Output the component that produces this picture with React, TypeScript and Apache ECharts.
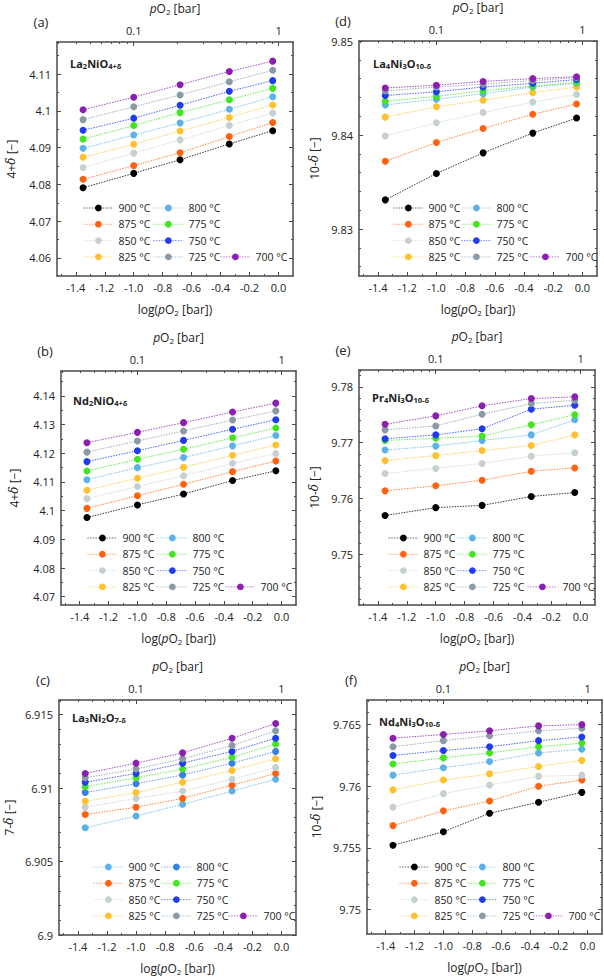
import { useEffect, useRef } from 'react';
import * as echarts from 'echarts';

const FONT = "'Open Sans', 'Noto Sans', sans-serif";
const SERIF = "'DejaVu Serif', 'Liberation Serif', serif";
const TXT = '#222222';
const AX = '#4a4a4a';

const temperatures = ['900 °C', '875 °C', '850 °C', '825 °C', '800 °C', '775 °C', '750 °C', '725 °C', '700 °C'];
const logPO2 = [-1.35, -1.0, -0.68, -0.34, -0.04];

const xMajorTicks = [-1.4, -1.2, -1.0, -0.8, -0.6, -0.4, -0.2, 0.0];
const xMinorTicks = [-1.5, -1.3, -1.1, -0.9, -0.7, -0.5, -0.3, -0.1];
const pO2MajorTicks = [0.1, 1];
const pO2MinorTicks = [0.03, 0.04, 0.05, 0.06, 0.07, 0.08, 0.09, 0.2, 0.3, 0.4, 0.5, 0.6, 0.7, 0.8, 0.9];

const colorsStd = ['#000000', '#ff6312', '#c7d0d0', '#ffc12f', '#5cb1e8', '#42e620', '#1f3cf0', '#8a9ba6', '#8b1fb1'];
const colorsC = ['#5cb1e8', '#ff6312', '#c7d0d0', '#ffc12f', '#3a7fe2', '#42e620', '#1f3cf0', '#8a9ba6', '#8b1fb1'];

// rows: 900, 875, 850, 825, 800, 775, 750, 725, 700 °C
const dataA_La2NiO4 = [
  [4.0791, 4.0830, 4.0867, 4.0910, 4.0946],
  [4.0814, 4.0851, 4.0886, 4.0930, 4.0968],
  [4.0846, 4.0885, 4.0921, 4.0960, 4.0994],
  [4.0874, 4.0909, 4.0945, 4.0982, 4.1016],
  [4.0898, 4.0934, 4.0967, 4.1004, 4.1038],
  [4.0923, 4.0960, 4.0995, 4.1030, 4.1061],
  [4.0947, 4.0980, 4.1015, 4.1053, 4.1082],
  [4.0976, 4.1011, 4.1043, 4.1079, 4.1110],
  [4.1003, 4.1037, 4.1071, 4.1107, 4.1135],
];
const dataD_La4Ni3O10 = [
  [9.8331, 9.8359, 9.8381, 9.8402, 9.8418],
  [9.8372, 9.8392, 9.8407, 9.8422, 9.8433],
  [9.8399, 9.8413, 9.8424, 9.8435, 9.8443],
  [9.8419, 9.8430, 9.8437, 9.8445, 9.8451],
  [9.8432, 9.8438, 9.8444, 9.8451, 9.8455],
  [9.8436, 9.8441, 9.8447, 9.8452, 9.8456],
  [9.8442, 9.8446, 9.8451, 9.8455, 9.8459],
  [9.8447, 9.8451, 9.8454, 9.8458, 9.8461],
  [9.8450, 9.8453, 9.8457, 9.8460, 9.8462],
];
const dataB_Nd2NiO4 = [
  [4.0976, 4.1020, 4.1058, 4.1105, 4.1139],
  [4.1008, 4.1052, 4.1092, 4.1136, 4.1173],
  [4.1042, 4.1084, 4.1122, 4.1165, 4.1199],
  [4.1071, 4.1113, 4.1151, 4.1193, 4.1229],
  [4.1108, 4.1150, 4.1185, 4.1226, 4.1262],
  [4.1138, 4.1179, 4.1214, 4.1254, 4.1288],
  [4.1171, 4.1209, 4.1245, 4.1284, 4.1317],
  [4.1204, 4.1243, 4.1278, 4.1316, 4.1348],
  [4.1237, 4.1273, 4.1307, 4.1344, 4.1375],
];
const dataE_Pr4Ni3O10 = [
  [9.7570, 9.7584, 9.7588, 9.7604, 9.7611],
  [9.7614, 9.7623, 9.7633, 9.7649, 9.7655],
  [9.7645, 9.7654, 9.7663, 9.7676, 9.7682],
  [9.7668, 9.7677, 9.7686, 9.7695, 9.7714],
  [9.7687, 9.7694, 9.7704, 9.7714, 9.7741],
  [9.7704, 9.7708, 9.7712, 9.7732, 9.7750],
  [9.7707, 9.7714, 9.7725, 9.7760, 9.7767],
  [9.7723, 9.7730, 9.7751, 9.7770, 9.7776],
  [9.7733, 9.7748, 9.7766, 9.7779, 9.7782],
];
const dataC_La3Ni2O7 = [
  [6.9073, 6.9081, 6.9089, 6.9098, 6.9106],
  [6.9082, 6.9087, 6.9093, 6.9102, 6.9110],
  [6.9087, 6.9093, 6.9098, 6.9106, 6.9114],
  [6.9091, 6.9097, 6.9104, 6.9112, 6.9120],
  [6.9097, 6.9103, 6.9109, 6.9117, 6.9125],
  [6.9101, 6.9107, 6.9113, 6.9121, 6.9130],
  [6.9104, 6.9110, 6.9117, 6.9125, 6.9134],
  [6.9107, 6.9113, 6.9120, 6.9129, 6.9139],
  [6.9110, 6.9117, 6.9124, 6.9134, 6.9144],
];
const dataF_Nd4Ni3O10 = [
  [9.7552, 9.7563, 9.7578, 9.7587, 9.7595],
  [9.7568, 9.7580, 9.7588, 9.7600, 9.7605],
  [9.7583, 9.7594, 9.7601, 9.7608, 9.7609],
  [9.7597, 9.7605, 9.7610, 9.7616, 9.7621],
  [9.7609, 9.7615, 9.7620, 9.7627, 9.7630],
  [9.7618, 9.7623, 9.7627, 9.7632, 9.7635],
  [9.7625, 9.7629, 9.7632, 9.7637, 9.7640],
  [9.7632, 9.7637, 9.7641, 9.7645, 9.7647],
  [9.7639, 9.7642, 9.7645, 9.7649, 9.7650],
];

const yTicksA = [4.06, 4.07, 4.08, 4.09, 4.1, 4.11];
const yMinorA = [4.065, 4.075, 4.085, 4.095, 4.105, 4.115];
const yTicksB = [4.07, 4.08, 4.09, 4.1, 4.11, 4.12, 4.13, 4.14];
const yMinorB = [4.075, 4.085, 4.095, 4.105, 4.115, 4.125, 4.135, 4.145];
const yTicksC = [6.9, 6.905, 6.91, 6.915];
const yMinorC = [6.901, 6.902, 6.903, 6.904, 6.906, 6.907, 6.908, 6.909, 6.911, 6.912, 6.913, 6.914];
const yTicksD = [9.83, 9.84, 9.85];
const yMinorD = [9.826, 9.828, 9.832, 9.834, 9.836, 9.838, 9.842, 9.844, 9.846, 9.848];
const yTicksE = [9.75, 9.76, 9.77, 9.78];
const yMinorE = [9.742, 9.744, 9.746, 9.748, 9.752, 9.754, 9.756, 9.758, 9.762, 9.764, 9.766, 9.768, 9.772, 9.774, 9.776, 9.778, 9.782];
const yTicksF = [9.75, 9.755, 9.76, 9.765];
const yMinorF = [9.751, 9.752, 9.753, 9.754, 9.756, 9.757, 9.758, 9.759, 9.761, 9.762, 9.763, 9.764, 9.766];

const panels = [
  { key: 'a', letter: '(a)', formula: '{b|La}{bs|2}{b|NiO}{bs|4+δ}', yNum: '4+', data: dataA_La2NiO4, colors: colorsStd,
    yMin: 4.0551, yMax: 4.1187, yTicks: yTicksA, yMinor: yMinorA,
    grid: { left: 57, top: 42, width: 236, height: 234 }, fx: 70, fy: 63, yNameX: 11, leg: [83, 153, 220, 208] },
  { key: 'd', letter: '(d)', formula: '{b|La}{bs|4}{b|Ni}{bs|3}{b|O}{bs|10-δ}', yNum: '10-', data: dataD_La4Ni3O10, colors: colorsStd,
    yMin: 9.825, yMax: 9.85, yTicks: yTicksD, yMinor: yMinorD,
    grid: { left: 359, top: 41, width: 238, height: 235 }, fx: 373, fy: 63, yNameX: 314, leg: [393, 461, 530, 208] },
  { key: 'b', letter: '(b)', formula: '{b|Nd}{bs|2}{b|NiO}{bs|4+δ}', yNum: '4+', data: dataB_Nd2NiO4, colors: colorsStd,
    yMin: 4.0671, yMax: 4.1487, yTicks: yTicksB, yMinor: yMinorB,
    grid: { left: 61, top: 371, width: 235, height: 234 }, fx: 73, fy: 400, yNameX: 14, leg: [87, 157, 225, 538] },
  { key: 'e', letter: '(e)', formula: '{b|Pr}{bs|4}{b|Ni}{bs|3}{b|O}{bs|10-δ}', yNum: '10-', data: dataE_Pr4Ni3O10, colors: colorsStd,
    yMin: 9.741, yMax: 9.783, yTicks: yTicksE, yMinor: yMinorE,
    grid: { left: 359, top: 370, width: 236, height: 235 }, fx: 372, fy: 397, yNameX: 314, leg: [388, 457, 527, 538] },
  { key: 'c', letter: '(c)', formula: '{b|La}{bs|3}{b|Ni}{bs|2}{b|O}{bs|7-δ}', yNum: '7-', data: dataC_La3Ni2O7, colors: colorsC,
    yMin: 6.9, yMax: 6.916, yTicks: yTicksC, yMinor: yMinorC,
    grid: { left: 59, top: 700, width: 237, height: 235 }, fx: 72, fy: 717, yNameX: 9, leg: [93, 161, 228, 867] },
  { key: 'f', letter: '(f)', formula: '{b|Nd}{bs|4}{b|Ni}{bs|3}{b|O}{bs|10-δ}', yNum: '10-', data: dataF_Nd4Ni3O10, colors: colorsStd,
    yMin: 9.748, yMax: 9.767, yTicks: yTicksF, yMinor: yMinorF,
    grid: { left: 367, top: 700, width: 235, height: 234 }, fx: 379, fy: 721, yNameX: 316, leg: [399, 467, 533, 867] },
];

const X_MIN = -1.53;
const X_MAX = 0.1;

const rich = {
  n: { fontSize: 12, fontFamily: FONT, fill: TXT, color: TXT, lineHeight: 15 },
  i: { fontSize: 12, fontFamily: FONT, fontStyle: 'italic', fill: TXT, color: TXT, lineHeight: 15 },
  s: { fontSize: 8, fontFamily: FONT, fill: TXT, color: TXT, lineHeight: 6, verticalAlign: 'bottom' },
  d: { fontSize: 12, fontFamily: SERIF, fontStyle: 'italic', fill: TXT, color: TXT, lineHeight: 15 },
  b: { fontSize: 11, fontFamily: FONT, fontWeight: 'bold', fill: TXT, color: TXT, lineHeight: 14 },
  bs: { fontSize: 7.5, fontFamily: FONT, fontWeight: 'bold', fill: TXT, color: TXT, lineHeight: 5, verticalAlign: 'bottom' },
  l: { fontSize: 13, fontFamily: FONT, fill: TXT, color: TXT, lineHeight: 15 },
};

const numFmt = (v: number) => String(parseFloat(Number(v).toFixed(4)));
const lineStyleAx = { color: AX, width: 1.5 };
const tickStyle = { color: AX, width: 1 };
const labelStyle = { fontSize: 11, fontFamily: FONT, color: TXT };

function textEl(x: number, y: number, text: string, rotation = 0, align = 'center') {
  return {
    type: 'text', x, y, rotation, silent: true,
    style: {
      text, rich, fill: TXT, fontFamily: FONT, fontSize: 12,
      align, textAlign: align, verticalAlign: 'middle', textVerticalAlign: 'middle',
    },
  };
}

function buildOption() {
  const grid: any[] = [];
  const xAxis: any[] = [];
  const yAxis: any[] = [];
  const legend: any[] = [];
  const series: any[] = [];
  const elements: any[] = [];
  const inX = (v: number) => v >= X_MIN && v <= X_MAX;

  panels.forEach((p, i) => {
    grid.push({ ...p.grid, containLabel: false });
    const xBase = { type: 'value', gridIndex: i, min: X_MIN, max: X_MAX, splitLine: { show: false } };
    xAxis.push({
      ...xBase, position: 'bottom',
      axisLine: { show: true, onZero: false, lineStyle: lineStyleAx },
      axisTick: { show: true, inside: true, length: 4, customValues: xMajorTicks, lineStyle: tickStyle },
      axisLabel: { show: true, customValues: xMajorTicks, margin: 6, formatter: (v: number) => Number(v).toFixed(1), ...labelStyle },
    });
    xAxis.push({
      ...xBase, position: 'bottom',
      axisLine: { show: false, onZero: false },
      axisTick: { show: true, inside: true, length: 2, customValues: xMinorTicks.filter(inX), lineStyle: tickStyle },
      axisLabel: { show: false },
    });
    xAxis.push({
      ...xBase, position: 'top',
      axisLine: { show: true, onZero: false, lineStyle: lineStyleAx },
      axisTick: { show: true, inside: true, length: 4, customValues: pO2MajorTicks.map(Math.log10), lineStyle: tickStyle },
      axisLabel: { show: true, customValues: pO2MajorTicks.map(Math.log10), margin: 6,
        formatter: (v: number) => (Math.abs(v) < 1e-6 ? '1' : '0.1'), ...labelStyle },
    });
    xAxis.push({
      ...xBase, position: 'top',
      axisLine: { show: false, onZero: false },
      axisTick: { show: true, inside: true, length: 2, customValues: pO2MinorTicks.map(Math.log10).filter(inX), lineStyle: tickStyle },
      axisLabel: { show: false },
    });

    const yBase = { type: 'value', gridIndex: i, min: p.yMin, max: p.yMax, splitLine: { show: false } };
    yAxis.push({
      ...yBase, position: 'left',
      axisLine: { show: true, onZero: false, lineStyle: lineStyleAx },
      axisTick: { show: true, inside: true, length: 4, customValues: p.yTicks, lineStyle: tickStyle },
      axisLabel: { show: true, customValues: p.yTicks, margin: 6, formatter: numFmt, ...labelStyle },
    });
    yAxis.push({
      ...yBase, position: 'left',
      axisLine: { show: false, onZero: false },
      axisTick: { show: true, inside: true, length: 2, customValues: p.yMinor, lineStyle: tickStyle },
      axisLabel: { show: false },
    });
    yAxis.push({
      ...yBase, position: 'right',
      axisLine: { show: true, onZero: false, lineStyle: lineStyleAx },
      axisTick: { show: true, inside: true, length: 4, customValues: p.yTicks, lineStyle: tickStyle },
      axisLabel: { show: false },
    });
    yAxis.push({
      ...yBase, position: 'right',
      axisLine: { show: false, onZero: false },
      axisTick: { show: true, inside: true, length: 2, customValues: p.yMinor, lineStyle: tickStyle },
      axisLabel: { show: false },
    });

    const names = temperatures.map((t) => `${p.key}:${t}`);
    p.data.forEach((vals, k) => {
      const c = p.colors[k];
      series.push({
        type: 'line', name: names[k], xAxisIndex: 4 * i, yAxisIndex: 4 * i,
        data: logPO2.map((x, j) => [x, vals[j]]),
        symbol: 'circle', symbolSize: 7,
        itemStyle: { color: c },
        lineStyle: { color: c, width: 1, type: [1.5, 1.2], opacity: 0.8 },
        emphasis: { disabled: true },
        silent: true,
      });
    });

    const [c1, c2, c3, r1] = p.leg;
    const rowH = 16.3;
    const legBase = {
      orient: 'vertical', padding: 0, itemGap: rowH - 12, itemWidth: 30, itemHeight: 8.5,
      selectedMode: false,
      lineStyle: { width: 0.8, opacity: 0.75 },
      formatter: (n: string) => n.slice(n.indexOf(':') + 1),
      textStyle: { fontSize: 10.5, fontFamily: FONT, color: TXT, lineHeight: 12 },
    };
    legend.push({ ...legBase, left: c1, top: r1 - 6, data: names.slice(0, 4) });
    legend.push({ ...legBase, left: c2, top: r1 - 6, data: names.slice(4, 8) });
    legend.push({ ...legBase, left: c3, top: r1 - 6 + 3 * rowH, data: names.slice(8) });

    const g = p.grid;
    const cx = g.left + g.width / 2;
    elements.push(textEl(g.left - 16, g.top - 20, `{l|${p.letter}}`));
    elements.push(textEl(cx, g.top - 34, '{i|p}{n|O}{s|2}{n| [bar]}'));
    elements.push(textEl(cx, g.top + g.height + 33, '{n|log(}{i|p}{n|O}{s|2}{n| [bar])}'));
    elements.push(textEl(p.yNameX, g.top + g.height / 2, `{n|${p.yNum}}{d|δ}{n| [−]}`, Math.PI / 2));
    elements.push(textEl(p.fx, p.fy, p.formula, 0, 'left'));
  });

  return {
    animation: false,
    backgroundColor: '#ffffff',
    grid, xAxis, yAxis, legend, series,
    graphic: { elements },
  };
}

export default function App() {
  const ref = useRef<HTMLDivElement>(null);
  useEffect(() => {
    if (!ref.current) return;
    const chart = echarts.init(ref.current, null, { renderer: 'svg' });
    chart.setOption(buildOption() as any);
    return () => chart.dispose();
  }, []);
  return <div ref={ref} style={{ position: 'absolute', left: 0, top: 0, width: 604, height: 978 }} />;
}
